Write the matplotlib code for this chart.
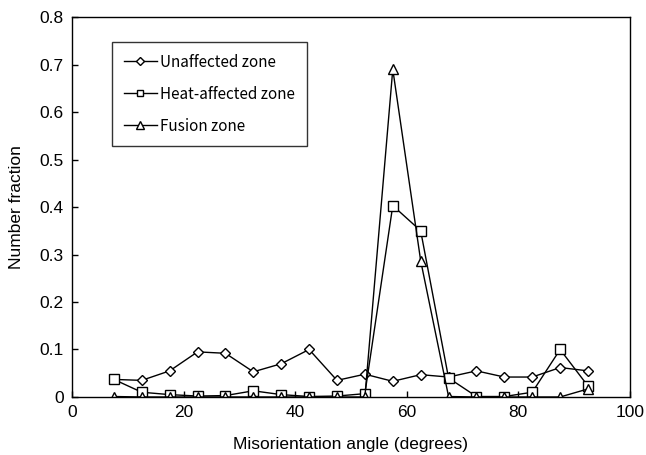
import matplotlib
matplotlib.use("Agg")
import matplotlib.pyplot as plt

plt.rcParams['font.family'] = ['Liberation Sans', 'DejaVu Sans']

angles = [7.5, 12.5, 17.5, 22.5, 27.5, 32.5, 37.5, 42.5, 47.5, 52.5,
          57.5, 62.5, 67.5, 72.5, 77.5, 82.5, 87.5, 92.5]
unaffected = [0.037, 0.035, 0.055, 0.095, 0.092, 0.053, 0.070, 0.100, 0.035, 0.048,
              0.033, 0.047, 0.042, 0.055, 0.042, 0.042, 0.062, 0.055]
heat_affected = [0.037, 0.010, 0.005, 0.002, 0.003, 0.013, 0.005, 0.001, 0.002, 0.007,
                 0.403, 0.350, 0.040, 0.001, 0.001, 0.010, 0.100, 0.023]
fusion = [0.001, 0.000, 0.000, 0.000, 0.000, 0.000, 0.000, 0.000, 0.000, 0.000,
          0.690, 0.287, 0.001, 0.000, 0.000, 0.000, 0.000, 0.017]

fig = plt.figure(figsize=(6.46, 4.55), dpi=100)
ax = fig.add_axes([0.1115, 0.1275, 0.8635, 0.835])

kw = dict(color='black', lw=1.0, mfc='white', mec='black', mew=1.0)
ax.plot(angles, unaffected, marker='D', ms=5.5, label='Unaffected zone', **kw)
ax.plot(angles, heat_affected, marker='s', ms=6.5, label='Heat-affected zone', **kw)
ax.plot(angles, fusion, marker='^', ms=7.5, label='Fusion zone', **kw)

ax.set_xlim(0, 100)
ax.set_ylim(0, 0.8)
ax.set_xticks([0, 20, 40, 60, 80, 100])
ax.set_yticks([0, 0.1, 0.2, 0.3, 0.4, 0.5, 0.6, 0.7, 0.8])
ax.set_yticklabels(['0', '0.1', '0.2', '0.3', '0.4', '0.5', '0.6', '0.7', '0.8'])
ax.tick_params(direction='in', length=4, labelsize=12.5, width=1, pad=6)
for s in ax.spines.values():
    s.set_linewidth(1.0)

ax.set_xlabel('Misorientation angle (degrees)', fontsize=12.5, labelpad=12)
ax.set_ylabel('Number fraction', fontsize=12.5, labelpad=11)

leg = ax.legend(loc='upper left', bbox_to_anchor=(0.072, 0.934),
                prop={'family': ['Noto Sans CJK JP', 'DejaVu Sans'], 'size': 11},
                frameon=True, fancybox=False, shadow=False, edgecolor='black',
                borderpad=0.75, labelspacing=0.98, handlelength=2.2, handletextpad=0.2,
                borderaxespad=0, markerscale=0.7)
leg.get_frame().set_linewidth(1.0)

fig.savefig('out.png', dpi=100)
